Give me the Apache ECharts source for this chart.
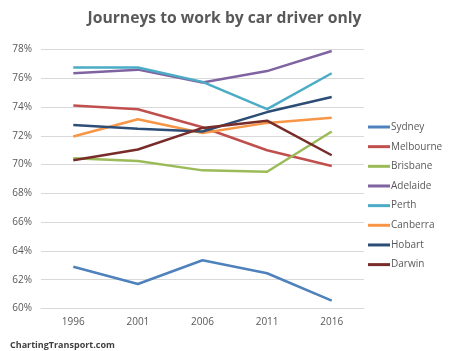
<!DOCTYPE html>
<html>
<head>
<meta charset="utf-8">
<script src="https://cdn.jsdelivr.net/npm/echarts@6/dist/echarts.min.js"></script>
<style>
  html, body { margin: 0; padding: 0; background: #fff; }
  #main { width: 449px; height: 351px; }
</style>
</head>
<body>
<div id="main"></div>
<script>
var years = ['1996', '2001', '2006', '2011', '2016'];
var cities = ['Sydney', 'Melbourne', 'Brisbane', 'Adelaide', 'Perth', 'Canberra', 'Hobart', 'Darwin'];
var colours = ['#4F81BD', '#C0504D', '#9BBB59', '#8064A2', '#4BACC6', '#F79646', '#2C4D75', '#772C2A'];

var sydney = [62.9, 61.7, 63.35, 62.45, 60.55];
var melbourne = [74.1, 73.85, 72.6, 71.0, 69.9];
var brisbane = [70.45, 70.25, 69.6, 69.5, 72.3];
var adelaide = [76.35, 76.6, 75.7, 76.5, 77.9];
var perth = [76.75, 76.75, 75.75, 73.85, 76.35];
var canberra = [71.95, 73.15, 72.2, 72.9, 73.25];
var hobart = [72.75, 72.5, 72.3, 73.65, 74.7];
var darwin = [70.3, 71.05, 72.55, 73.05, 70.65];

var seriesData = [sydney, melbourne, brisbane, adelaide, perth, canberra, hobart, darwin];

var chartDom = document.getElementById('main');
var myChart = echarts.init(chartDom);

var seriesList = [];
cities.forEach(function (city, i) {
    seriesList.push({
        type: 'line',
        name: city,
        data: seriesData[i],
        symbol: 'none',
        lineStyle: { width: 2.5, color: colours[i] },
        itemStyle: { color: colours[i] }
    });
});

var option = {
    animation: false,
    textStyle: { fontFamily: 'Open Sans' },
    title: [{
        text: 'Journeys to work by car driver only',
        left: 'center',
        top: 6,
        textStyle: { fontSize: 15.7, fontWeight: 'bold', color: '#595959', fontFamily: 'Open Sans' }
    }, {
        text: 'ChartingTransport.com',
        left: 5,
        top: 336,
        textStyle: { fontSize: 9, fontWeight: 'bold', color: '#404040', fontFamily: 'Open Sans' }
    }],
    legend: {
        orient: 'vertical',
        left: 363,
        top: 116,
        icon: 'rect',
        itemWidth: 22,
        itemHeight: 3,
        itemGap: 7.66,
        textStyle: { fontSize: 10, lineHeight: 12, color: '#595959', padding: [0, 0, 0, -4] },
        data: cities
    },
    grid: { left: 41, right: 85, top: 49.5, bottom: 42.5 },
    xAxis: {
        type: 'category',
        data: years,
        boundaryGap: true,
        axisLine: { lineStyle: { color: '#d9d9d9' } },
        axisTick: { show: false },
        axisLabel: { color: '#595959', fontSize: 10, margin: 9 }
    },
    yAxis: {
        type: 'value',
        min: 60,
        max: 78,
        interval: 2,
        axisLine: { show: false },
        axisTick: { show: false },
        splitLine: { lineStyle: { color: '#d9d9d9' } },
        axisLabel: { color: '#595959', fontSize: 10, margin: 9, formatter: '{value}%' }
    },
    series: seriesList
};

myChart.setOption(option);
</script>
</body>
</html>
